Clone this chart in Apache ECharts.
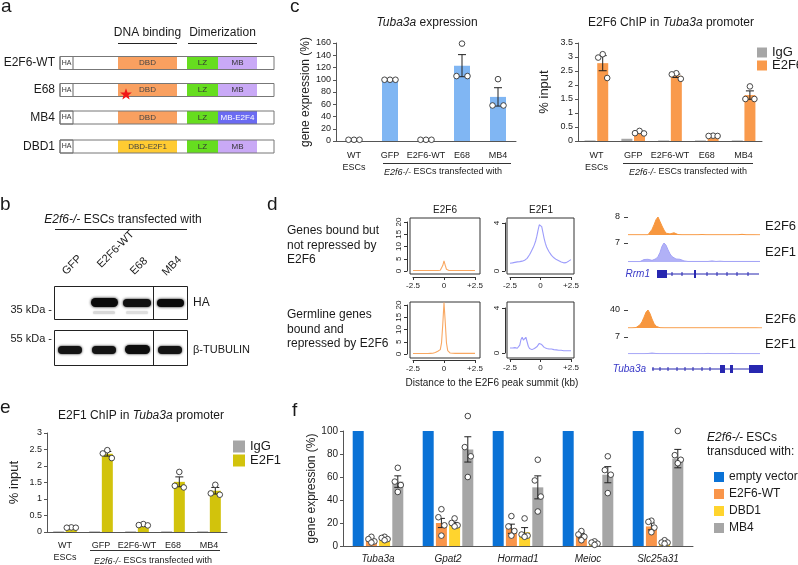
<!DOCTYPE html>
<html><head><meta charset="utf-8">
<script src="https://cdn.jsdelivr.net/npm/echarts@6/dist/echarts.min.js"></script>
<style>html,body{margin:0;padding:0;background:#fff}#c{width:798px;height:565px}</style>
</head><body><div id="c"></div>
<script>
// ================= DATA =================
const chipCats = ['WT\nESCs', 'GFP', 'E2F6-WT', 'E68', 'MB4'];
// c (left): Tuba3a expression (%)
const exprTuba3aMean = [2, 100, 2, 123, 72];
const exprTuba3aSem  = [0, 0, 0, 18, 15];
const exprTuba3aPts  = [[2,2,2],[100,100,100],[2,2,2],[159,106,106],[101,58,58]];
// c (right): E2F6 ChIP (% input)
const chipE2F6IgG  = [0.02, 0.08, 0.02, 0.02, 0.02];
const chipE2F6Mean = [2.78, 0.30, 2.33, 0.18, 1.64];
const chipE2F6Sem  = [0.27, 0.03, 0.06, 0.01, 0.15];
const chipE2F6Pts  = [[3.10,2.98,2.25],[0.36,0.28,0.27],[2.42,2.38,2.22],[0.19,0.18,0.18],[1.95,1.50,1.50]];
// e: E2F1 ChIP (% input)
const chipE2F1IgG  = [0.02, 0.02, 0.02, 0.02, 0.02];
const chipE2F1Mean = [0.13, 2.37, 0.20, 1.52, 1.25];
const chipE2F1Sem  = [0.01, 0.07, 0.01, 0.15, 0.10];
const chipE2F1Pts  = [[0.14,0.13,0.13],[2.48,2.38,2.24],[0.24,0.21,0.20],[1.82,1.40,1.35],[1.43,1.17,1.13]];
// f: gene expression (%)
const geneCats = ['Tuba3a', 'Gpat2', 'Hormad1', 'Meioc', 'Slc25a31'];
const fEmpty  = [100, 100, 100, 100, 100];
const fE2F6WT = [5, 20, 15, 9, 17];
const fDBD1   = [6, 19, 12, 2.5, 3];
const fMB4    = [56, 84, 51, 62, 76];
const fE2F6WTSem = [1, 4, 4, 2, 3];
const fDBD1Sem   = [1, 1.5, 4, 0.8, 0.8];
const fMB4Sem    = [5, 11, 10, 7, 8];
const fE2F6WTPts = [[8,6,4,3],[32,25,18,9],[26,17,13,9],[13,10,8,5],[22,21,16,12]];
const fDBD1Pts   = [[8,7,6,5],[24,20,18,17],[24,10,9,8],[4,3,2,1],[5,3,3,2]];
const fMB4Pts    = [[68,56,53,47],[113,86,78,60],[75,57,43,30],[78,66,62,46],[100,79,75,72]];
// d: average profiles, -2.5..+2.5 kb, step 0.1 kb
const profStart = -2.5, profStep = 0.1;
const profE2F6Top = [0.2,0.2,0.2,0.2,0.2,0.2,0.2,0.2,0.2,0.2,0.2,0.2,0.2,0.2,0.2,0.2,0.2,0.2,0.2,0.2,0.2,0.22,
  0.3,0.6,2.2,4.1,2.3,0.7,0.3,
  0.22,0.2,0.2,0.2,0.2,0.2,0.2,0.2,0.2,0.2,0.2,0.2,0.2,0.2,0.2,0.2,0.2,0.2,0.2,0.2,0.2,0.2];
const profE2F6Bot = [0.2,0.2,0.2,0.2,0.2,0.2,0.2,0.2,0.2,0.2,0.2,0.2,0.2,0.2,0.25,0.25,0.3,
  0.35,0.6,0.9,1.1,1.2,1.8,4.5,12,21,13,4.5,1.4,0.6,0.4,
  0.3,0.3,0.25,0.25,0.25,0.25,0.25,0.25,0.25,0.25,0.25,0.25,0.25,0.25,0.25,0.25,0.25,0.25,0.25,0.25];
const profE2F1Top = [0.65,0.66,0.68,0.7,0.72,0.75,0.76,0.74,0.78,0.8,0.82,0.85,0.9,0.95,1.05,1.2,1.35,1.55,1.75,1.95,2.2,2.5,2.9,3.4,3.85,
  4.0,3.7,3.2,2.7,2.3,2.0,1.8,1.6,1.45,1.3,1.2,1.1,1.0,0.95,0.9,0.85,0.8,0.75,0.7,0.68,0.66,0.7,0.75,0.82,0.9,0.95];
const profE2F1Bot = [0.45,0.42,0.45,0.4,0.48,0.5,0.42,0.55,0.7,1.2,1.4,1.15,1.05,1.4,1.0,0.6,0.4,0.3,0.3,0.35,0.4,0.5,0.55,0.7,0.85,
  0.9,0.75,0.6,0.5,0.45,0.4,0.38,0.35,0.33,0.35,0.32,0.3,0.3,0.28,0.27,0.25,0.25,0.24,0.22,0.2,0.2,0.2,0.18,0.2,0.18,0.2];
// d: genome browser tracks (bins of 2 units)
const trackStep = 2;
const trkE2F6Rrm1 = [0.1,0.1,0.1,0.1,0.1,0.1,0.1,0.1,0.1,0.1,0.1,
  0.8,2.5,4.5,6.8,8,6,4,2.2,0.8,0.3,0.5,0.9,1.0,0.7,0.2,
  0.1,0.1,0.1,0.1,0.1,0.1,0.1,0.1,0.1,0.1,0.3,0.2,0.1,0.1,0.1,0.1,0.1,0.1,0.1,0.1,0.1,0.1,0.1,0.1,0.1,0.1,0.1,0.1,0.1,0.1,0.1,0.3,0.1,0.1,0.1,0.1,0.1,0.1,0.1,0.1,0.1];
const trkE2F1Rrm1 = [0.15,0.15,0.15,0.15,0.15,0.15,0.15,
  0.4,0.9,1.3,1.0,0.7,0.6,0.8,1.2,2.0,3.5,5.8,7.0,6.2,4.5,3.0,2.0,1.5,1.1,0.9,1.0,0.8,0.4,
  0.25,0.2,0.2,0.2,0.2,0.2,0.2,0.2,0.2,0.2,0.2,0.2,0.35,0.4,0.35,0.2,0.2,0.3,0.3,0.2,0.2,0.2,0.2,0.2,0.2,0.2,0.2,0.2,0.2,0.2,0.2,0.2,0.2,0.2,0.2,0.2,0.2,0.2];
const trkE2F6Tuba = [0.3,0.3,0.3,0.3,
  1,3,7,14,24,35,40,32,20,10,4,1.5,0.6,
  0.3,0.3,0.3,0.3,0.3,0.3,0.3,0.3,0.3,0.3,0.3,0.3,0.3,0.3,0.3,0.3,0.3,0.3,0.3,0.3,0.3,0.3,0.3,0.3,0.3,0.3,0.3,0.3,0.3,0.3,0.3,0.3,0.3,0.3,0.3,0.3,0.3,0.3,0.3,0.3,0.3,0.3,0.3,0.3,0.3,0.3,0.3,0.3,0.3,0.3,0.3];
const trkE2F1Tuba = [0.15,0.15,0.15,0.15,0.15,0.15,0.15,0.15,0.15,0.15,0.2,0.3,0.4,0.35,0.2,0.15,0.15,0.15,0.15,0.15,
  0.15,0.15,0.15,0.15,0.15,0.15,0.15,0.15,0.15,0.15,0.15,0.15,0.15,0.15,0.15,0.15,0.15,0.15,0.15,0.15,0.25,0.15,0.15,0.15,0.15,0.15,
  0.15,0.15,0.15,0.15,0.15,0.15,0.25,0.15,0.15,0.15,0.15,0.15,0.15,0.15,0.15,0.15,0.15,0.15,0.15,0.15,0.15];
// gene models: [start, end, kind] kind 0 = intron line, 1 = exon, 2 = tick
const geneRrm1 = [[29,131,0],[29,39,1],[66,68,1],[44,44,2],[54,54,2],[79,79,2],[89,89,2],[99,99,2],[109,109,2],[120,120,2]];
const geneTuba3a = [[24,135,0],[92,97,1],[102,105,1],[121,135,1],[25,25,2],[32,32,2],[40,40,2],[49,49,2],[57,57,2],[65,65,2],[74,74,2],[82,82,2]];

// ================= STYLE =================
const FONT = '"Liberation Sans", Arial, Helvetica, sans-serif';
const C = {lightBlue:'#80B6F3', igg:'#A6A6A6', orange:'#F99A4C', olive:'#D2C30C',
  fBlue:'#0A72D6', fOrange:'#F9954A', fYellow:'#FFD42E', fGray:'#A6A6A6',
  profOrange:'#F9A862', profLav:'#9C9CFB', trkOrange:'#F7973F', trkLav:'#A3A3F6', gene:'#2727B0', axis:'#555'};

const grids = [], xAxes = [], yAxes = [], series = [];
function addGrid(l, t, w, h, extra) { grids.push(Object.assign({left:l, top:t, width:w, height:h}, extra || {})); return grids.length - 1; }

function barPanel(gi, cats, ymax, yint, yname, nameGap, catFont, catItalic, yFont, catMargin) {
  xAxes.push({type:'category', gridIndex:gi, data:cats,
    axisLine:{lineStyle:{color:C.axis, width:1}}, axisTick:{show:false},
    axisLabel:{interval:0, fontSize:catFont, color:'#222', fontFamily:FONT, lineHeight:12, margin:catMargin, fontStyle:catItalic ? 'italic' : 'normal'}});
  yAxes.push({type:'value', gridIndex:gi, min:0, max:ymax, interval:yint, name:yname, nameLocation:'middle', nameGap:nameGap, nameRotate:90,
    nameTextStyle:{fontSize: yname === '% input' ? 13 : 12, color:'#222', fontFamily:FONT},
    axisLine:{show:true, lineStyle:{color:C.axis}}, axisTick:{show:true, length:3, lineStyle:{color:C.axis}},
    axisLabel:{fontSize:yFont || 9, color:'#222', margin:5, fontFamily:FONT, showMaxLabel:true}, splitLine:{show:false}});
}
function barSeries(gi, name, data, color, width, gap) {
  series.push({type:'bar', name, xAxisIndex:gi, yAxisIndex:gi, data, barWidth:width, barGap:gap, itemStyle:{color}, silent:true, z:2});
}
function errSeries(gi, means, sems, offset, capHalf) {
  series.push({type:'custom', xAxisIndex:gi, yAxisIndex:gi, z:5, silent:true,
    data: means.map((m, i) => [i, m, sems[i]]),
    renderItem: (p, api) => {
      const s = api.value(2);
      if (!s) return {type:'group', children:[]};
      const i = api.value(0), m = api.value(1);
      const a = api.coord([i, m + s]), b = api.coord([i, m - s]);
      const x = a[0] + offset, st = {stroke:'#222', lineWidth:1};
      return {type:'group', children:[
        {type:'line', shape:{x1:x, y1:a[1], x2:x, y2:b[1]}, style:st},
        {type:'line', shape:{x1:x-capHalf, y1:a[1], x2:x+capHalf, y2:a[1]}, style:st},
        {type:'line', shape:{x1:x-capHalf, y1:b[1], x2:x+capHalf, y2:b[1]}, style:st}]};
    }});
}
function ptsSeries(gi, pts, offset, jit) {
  const data = [];
  pts.forEach((arr, i) => arr.forEach((v, k) => data.push([i, v, k])));
  series.push({type:'custom', xAxisIndex:gi, yAxisIndex:gi, z:6, silent:true, data,
    renderItem: (p, api) => {
      const c = api.coord([api.value(0), api.value(1)]);
      return {type:'circle', shape:{cx:c[0] + offset + jit[api.value(2)], cy:c[1], r:2.8}, style:{fill:'#fff', stroke:'#333', lineWidth:0.9}};
    }});
}

// ---- c left ----
let g = addGrid(336, 43, 180, 98);
barPanel(g, chipCats, 160, 20, 'gene expression (%)', 24, 9, false, 9, 9);
barSeries(g, 'expr', exprTuba3aMean, C.lightBlue, 16, '0%');
errSeries(g, exprTuba3aMean, exprTuba3aSem, 0, 4);
ptsSeries(g, exprTuba3aPts, 0, [0, -5.5, 5.5]);
// ---- c right ----
g = addGrid(578, 43, 184, 98);
barPanel(g, chipCats, 3.5, 0.5, '% input', 27, 9, false, 9, 9);
barSeries(g, 'IgG', chipE2F6IgG, C.igg, 11, '15%');
barSeries(g, 'E2F6', chipE2F6Mean, C.orange, 11, '15%');
errSeries(g, chipE2F6Mean, chipE2F6Sem, 6.3, 4);
ptsSeries(g, chipE2F6Pts, 6.3, [0, -4.5, 4.5]);
// ---- e ----
g = addGrid(47, 433, 180, 99);
barPanel(g, chipCats, 3, 0.5, '% input', 26, 9, false, 9, 8);
barSeries(g, 'IgG', chipE2F1IgG, C.igg, 11, '15%');
barSeries(g, 'E2F1', chipE2F1Mean, C.olive, 11, '15%');
errSeries(g, chipE2F1Mean, chipE2F1Sem, 6.3, 4);
ptsSeries(g, chipE2F1Pts, 6.3, [0, -4.5, 4.5]);
// ---- f ----
g = addGrid(343, 431, 350, 118);
barPanel(g, geneCats, 100, 20, 'gene expression (%)', 22, 10, true, 10, 7);
barSeries(g, 'empty vector', fEmpty, C.fBlue, 11, '20%');
barSeries(g, 'E2F6-WT', fE2F6WT, C.fOrange, 11, '20%');
barSeries(g, 'DBD1', fDBD1, C.fYellow, 11, '20%');
barSeries(g, 'MB4', fMB4, C.fGray, 11, '20%');
errSeries(g, fE2F6WT, fE2F6WTSem, -6.6, 3.5);
errSeries(g, fDBD1, fDBD1Sem, 6.6, 3.5);
errSeries(g, fMB4, fMB4Sem, 19.8, 3.5);
ptsSeries(g, fE2F6WTPts, -6.6, [0, -3, 3, 0]);
ptsSeries(g, fDBD1Pts, 6.6, [0, -3, 3, 0]);
ptsSeries(g, fMB4Pts, 19.8, [0, -3, 3, 0]);

// ---- d: frames ----
function frame(l, t, w, h) {
  const gi = addGrid(l, t, w, h, {show:true, borderColor:'#333', borderWidth:1, backgroundColor:'rgba(0,0,0,0)'});
  xAxes.push({type:'value', gridIndex:gi, show:false, min:0, max:1});
  yAxes.push({type:'value', gridIndex:gi, show:false, min:0, max:1});
}
frame(410, 218, 70, 56); frame(507, 218, 67, 56); frame(410, 302, 70, 56); frame(507, 302, 67, 56);
function profile(l, t, w, h, ymax, yint, vals, color, yOff) {
  const gi = addGrid(l, t, w, h);
  xAxes.push({type:'value', gridIndex:gi, min:-2.5, max:2.5, interval:2.5, offset:6,
    axisLine:{show:true, onZero:false, lineStyle:{color:'#333'}}, axisTick:{show:true, length:3, lineStyle:{color:'#333'}},
    axisLabel:{fontSize:8, color:'#222', margin:5, fontFamily:FONT, showMinLabel:true, showMaxLabel:true,
      formatter: v => v > 0 ? '+' + v : String(v)}, splitLine:{show:false}});
  yAxes.push({type:'value', gridIndex:gi, min:0, max:ymax, interval:yint, offset:yOff,
    axisLine:{show:true, onZero:false, lineStyle:{color:'#333'}}, axisTick:{show:true, length:3, lineStyle:{color:'#333'}},
    axisLabel:{fontSize:8, color:'#222', margin:4, rotate:90, fontFamily:FONT, showMaxLabel:true}, splitLine:{show:false}});
  series.push({type:'line', xAxisIndex:gi, yAxisIndex:gi, data: vals.map((v, i) => [profStart + i * profStep, v]),
    symbol:'none', clip:false, lineStyle:{color, width:1.1}, silent:true});
}
profile(413, 222, 62, 49, 20, 5, profE2F6Top, C.profOrange, 6);
profile(510, 223, 61, 48, 4, 4, profE2F1Top, C.profLav, 5);
profile(413, 305, 62, 49, 20, 5, profE2F6Bot, C.profOrange, 6);
profile(510, 308, 61, 45, 4, 4, profE2F1Bot, C.profLav, 5);

// ---- d: tracks ----
function track(t, h, ymax, vals, color, op) {
  const gi = addGrid(628, t, 135, h);
  xAxes.push({type:'value', gridIndex:gi, show:false, min:0, max:135});
  yAxes.push({type:'value', gridIndex:gi, min:0, max:ymax, interval:ymax, offset:2,
    axisLine:{show:false}, axisTick:{show:true, customValues:[ymax], length:4, lineStyle:{color:'#444'}},
    axisLabel:{show:true, customValues:[ymax], fontSize:9, color:'#222', margin:6, fontFamily:FONT, formatter: v => v === ymax ? String(v) : ''},
    splitLine:{show:false}});
  series.push({type:'line', xAxisIndex:gi, yAxisIndex:gi, data: vals.map((v, i) => [i * trackStep, v]),
    symbol:'none', lineStyle:{color, width:1}, areaStyle:{color, opacity:op}, silent:true});
}
track(217, 18, 8, trkE2F6Rrm1, C.trkOrange, 1);
track(243, 19, 7, trkE2F1Rrm1, C.trkLav, 0.85);
track(310, 18, 40, trkE2F6Tuba, C.trkOrange, 1);
track(337, 17, 7, trkE2F1Tuba, C.trkLav, 0.85);
function geneModel(t, parts) {
  const gi = addGrid(628, t, 135, 8);
  xAxes.push({type:'value', gridIndex:gi, show:false, min:0, max:135});
  yAxes.push({type:'value', gridIndex:gi, show:false, min:0, max:1});
  series.push({type:'custom', xAxisIndex:gi, yAxisIndex:gi, silent:true, data:parts, clip:false,
    renderItem: (p, api) => {
      const a = api.coord([api.value(0), 0.5]), b = api.coord([api.value(1), 0.5]), k = api.value(2);
      if (k === 0) return {type:'line', shape:{x1:a[0], y1:a[1], x2:b[0], y2:b[1]}, style:{stroke:C.gene, lineWidth:1}};
      if (k === 1) return {type:'rect', shape:{x:a[0], y:a[1]-4, width:Math.max(b[0]-a[0], 2), height:8}, style:{fill:C.gene}};
      return {type:'line', shape:{x1:a[0], y1:a[1]-2, x2:a[0], y2:a[1]+2}, style:{stroke:C.gene, lineWidth:1}};
    }});
}
geneModel(270, geneRrm1);
geneModel(365, geneTuba3a);

// ================= GRAPHICS (schematic, blot, annotations) =================
const G = [];
function txt(x, y, text, size, opt) {
  opt = opt || {};
  const el = {type:'text', z:100, silent:true, x:x, y:y, rotation:opt.rot || 0,
    style:{x:0, y:0, text, fill:opt.color || '#1a1a1a', fontSize:size, fontFamily:FONT, fontStyle:opt.italic ? 'italic' : 'normal',
      align:opt.align || 'left', verticalAlign:opt.va || 'middle'}};
  if (opt.rich) el.style.rich = opt.rich;
  G.push(el);
}
function line(x1, y1, x2, y2, color, w) { G.push({type:'line', z:100, silent:true, shape:{x1, y1, x2, y2}, style:{stroke:color || '#222', lineWidth:w || 1}}); }
function rect(x, y, w, h, fill, stroke, r, extra) {
  G.push({type:'rect', z:100, silent:true, shape:{x, y, width:w, height:h, r:r || 0},
    style:Object.assign({fill:fill || 'none', stroke:stroke || null, lineWidth:1}, extra || {})});
}
const ital = (s) => ({i:{fontStyle:'italic', fontSize:s, fontFamily:FONT, fill:'#1a1a1a'}});

// panel letters
txt(1, 7, 'a', 19); txt(290, 7, 'c', 19); txt(0, 205, 'b', 19); txt(267, 205, 'd', 19); txt(0, 408, 'e', 19); txt(292, 411, 'f', 19);

// ---- a: construct schematic ----
txt(147.5, 33, 'DNA binding', 12, {align:'center'});
txt(222.5, 33, 'Dimerization', 12, {align:'center'});
line(118, 43.5, 177, 43.5, '#222'); line(188, 43.5, 257, 43.5, '#222');
const rows = [
  {name:'E2F6-WT', y:63, dbd:'DBD', dbdC:'#F9A060', mb:'MB', mbC:'#C9A9F6', mbT:'#333'},
  {name:'E68', y:90, dbd:'DBD', dbdC:'#F9A060', mb:'MB', mbC:'#C9A9F6', mbT:'#333', star:true},
  {name:'MB4', y:117.5, dbd:'DBD', dbdC:'#F9A060', mb:'MB-E2F4', mbC:'#6B6BF2', mbT:'#fff'},
  {name:'DBD1', y:146.5, dbd:'DBD-E2F1', dbdC:'#FFCB32', mb:'MB', mbC:'#C9A9F6', mbT:'#333'}];
rows.forEach(r => {
  const y0 = r.y - 6.5;
  rect(60, y0, 214, 13, '#fff');
  rect(118, y0, 59, 13, r.dbdC);
  rect(187, y0, 31, 13, '#66DD1F');
  rect(218, y0, 39, 13, r.mbC);
  rect(60, y0, 13, 13, null, '#666');
  rect(60, y0, 214, 13, null, '#777');
  txt(66.5, r.y, 'HA', 7, {align:'center', color:'#333'});
  txt(147.5, r.y, r.dbd, 8, {align:'center', color:'#444'});
  txt(202.5, r.y, 'LZ', 8, {align:'center', color:'#333'});
  txt(237.5, r.y, r.mb, 8, {align:'center', color:r.mbT});
  txt(55, r.y, r.name, 12, {align:'right'});
  if (r.star) {
    const pts = []; const cx = 126, cy = 94.5;
    for (let k = 0; k < 10; k++) { const rr = k % 2 ? 2.6 : 6.2, an = -Math.PI / 2 + k * Math.PI / 5; pts.push([cx + rr * Math.cos(an), cy + rr * Math.sin(an)]); }
    G.push({type:'polygon', z:101, silent:true, shape:{points:pts}, style:{fill:'#F01818'}});
  }
});

// ---- b: western blot ----
txt(123, 220, '{i|E2f6-/-} ESCs transfected with', 12, {align:'center', rich:ital(12)});
line(55, 229.5, 187, 229.5, '#222');
[['GFP', 64, 273], ['E2F6-WT', 99, 266], ['E68', 132, 273], ['MB4', 164, 274]].forEach(l => txt(l[1], l[2], l[0], 11, {rot:Math.PI / 4}));
rect(54.5, 286.5, 133, 33, '#fff', '#222');
rect(54.5, 330.5, 133, 35, '#fff', '#222');
const band = (x, y, w, h, c, blur) => G.push({type:'rect', z:101, silent:true, shape:{x, y, width:w, height:h, r:h / 2},
  style:{fill:c, shadowBlur:blur, shadowColor:c}});
band(91, 298, 27, 9, '#0a0a0a', 3); band(123, 299, 28, 8, '#111', 3); band(157, 299, 27, 8, '#0a0a0a', 3);
band(93, 311, 22, 3, '#d8d8d8', 2); band(126, 311, 22, 3, '#dedede', 2);
band(58, 346, 24, 8, '#141414', 2.5); band(92, 346, 24, 8, '#141414', 2.5); band(125, 345, 25, 9, '#0e0e0e', 2.5); band(158, 346, 24, 8, '#141414', 2.5);
line(153.5, 287, 153.5, 319, '#222'); line(153.5, 331, 153.5, 365, '#222');
txt(52, 310, '35 kDa -', 11, {align:'right'});
txt(52, 339, '55 kDa -', 11, {align:'right'});
txt(193, 303, 'HA', 12);
txt(193, 350, 'β-TUBULIN', 11);

// ---- c annotations ----
txt(427, 23, '{i|Tuba3a} expression', 12, {align:'center', rich:ital(12)});
txt(671, 23, 'E2F6 ChIP in {i|Tuba3a} promoter', 12, {align:'center', rich:ital(12)});
line(383, 163.5, 511, 163.5, '#333'); txt(443, 172, '{i|E2f6-/-} ESCs transfected with', 9, {align:'center', rich:ital(9)});
line(623, 163.5, 753, 163.5, '#333'); txt(688, 172, '{i|E2f6-/-} ESCs transfected with', 9, {align:'center', rich:ital(9)});
// ---- e annotations ----
txt(141, 416, 'E2F1 ChIP in {i|Tuba3a} promoter', 12, {align:'center', rich:ital(12)});
line(90, 550.5, 220, 550.5, '#333'); txt(153, 561, '{i|E2f6-/-} ESCs transfected with', 9, {align:'center', rich:ital(9)});
// ---- d annotations ----
['Genes bound but', 'not repressed by', 'E2F6'].forEach((s, k) => txt(287, 231 + k * 14.5, s, 12));
['Germline genes', 'bound and', 'repressed by E2F6'].forEach((s, k) => txt(287, 315 + k * 14.5, s, 12));
txt(445, 210, 'E2F6', 10, {align:'center'}); txt(541, 210, 'E2F1', 10, {align:'center'});
txt(492, 383, 'Distance to the E2F6 peak summit (kb)', 10, {align:'center'});
txt(765, 226, 'E2F6', 13); txt(765, 252, 'E2F1', 13); txt(765, 319, 'E2F6', 13); txt(765, 344, 'E2F1', 13);
txt(650, 274, 'Rrm1', 10, {align:'right', italic:true, color:'#3838C8'});
txt(646, 369, 'Tuba3a', 10, {align:'right', italic:true, color:'#3838C8'});
// ---- f legend title ----
txt(707, 438, '{i|E2f6-/-} ESCs', 12, {rich:ital(12)});
txt(707, 452, 'transduced with:', 12);

const legendBase = {orient:'vertical', icon:'rect', selectedMode:false, padding:0, textStyle:{fontSize:13, color:'#1a1a1a', fontFamily:FONT}};
const legends = [
  Object.assign({}, legendBase, {data:['IgG', 'E2F6'], left:757, top:46, itemWidth:10, itemHeight:10, itemGap:0}),
  Object.assign({}, legendBase, {data:['IgG', 'E2F1'], left:233, top:440, itemWidth:12, itemHeight:12, itemGap:1}),
  Object.assign({}, legendBase, {data:['empty vector', 'E2F6-WT', 'DBD1', 'MB4'], left:714, top:471, itemWidth:10, itemHeight:10, itemGap:5,
    textStyle:{fontSize:12, color:'#1a1a1a', fontFamily:FONT}})];

const chart = echarts.init(document.getElementById('c'), null, {renderer:'canvas'});
chart.setOption({animation:false, backgroundColor:'#fff', textStyle:{fontFamily:FONT},
  grid:grids, xAxis:xAxes, yAxis:yAxes, series, legend:legends, graphic:G});
</script></body></html>
